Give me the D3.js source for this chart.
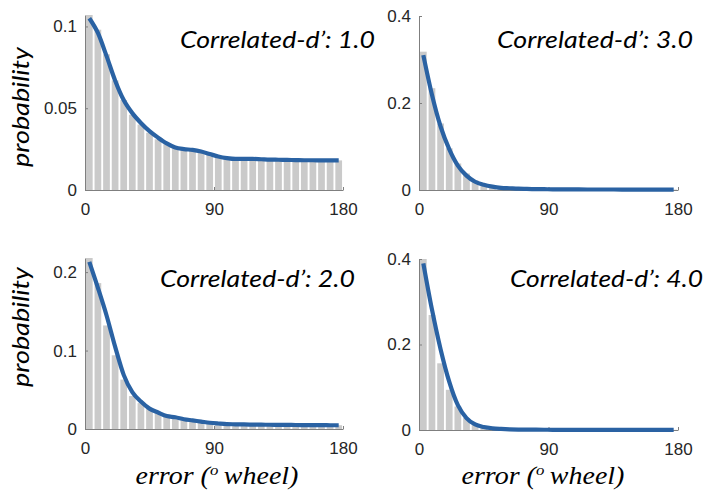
<!DOCTYPE html>
<html>
<head>
<meta charset="utf-8">
<script src="https://cdn.jsdelivr.net/npm/d3@7"></script>
<style>
  html, body { margin: 0; padding: 0; background: #fff; }
  svg { display: block; }
  .tick text { font-family: "Liberation Sans", Arial, sans-serif; font-size: 17px; fill: #262626; }
  .domain, .tick line { stroke: #7f7f7f; stroke-width: 1; }
</style>
</head>
<body>
<svg id="fig" width="710" height="499"></svg>
<script>
// Error bins (centres, degrees on the colour wheel), 6-degree wide
const binCenters = [3, 9, 15, 21, 27, 33, 39, 45, 51, 57, 63, 69, 75, 81, 87,
                    93, 99, 105, 111, 117, 123, 129, 135, 141, 147, 153, 159, 165, 171, 177];
const binWidth = 6;
const xTicks = [0, 90, 180];

// Panel labels (correlated d')
const dprimes = ["1.0", "3.0", "2.0", "4.0"];

// Y-axis limits and ticks per panel
const yMax = [0.107, 0.4, 0.218, 0.4];
const yTicksA = [0, 0.05, 0.1];
const yTicksB = [0, 0.2, 0.4];
const yTicksC = [0, 0.1, 0.2];
const yTicksD = [0, 0.2, 0.4];

// Observed error histograms (probability per bin)
const barsD1 = [0.107, 0.098, 0.083, 0.067, 0.055, 0.046, 0.040, 0.035, 0.031, 0.028,
                0.026, 0.025, 0.024, 0.023, 0.022, 0.0205, 0.0195, 0.019, 0.019, 0.0189,
                0.0188, 0.0186, 0.0185, 0.0184, 0.0183, 0.0182, 0.0182, 0.0181, 0.0181, 0.0181];
const barsD3 = [0.318, 0.234, 0.153, 0.096, 0.061, 0.038, 0.022, 0.013, 0.008, 0.005,
                0.004, 0.003, 0.0025, 0.002, 0.0018, 0.0016, 0.0015, 0.0014, 0.0013, 0.0012,
                0.0012, 0.0011, 0.0011, 0.001, 0.001, 0.001, 0.001, 0.001, 0.001, 0.001];
const barsD2 = [0.218, 0.186, 0.132, 0.094, 0.063, 0.042, 0.033, 0.026, 0.021, 0.0165,
                0.015, 0.0125, 0.011, 0.0095, 0.008, 0.007, 0.0062, 0.006, 0.0058, 0.0056,
                0.0055, 0.0054, 0.0053, 0.0052, 0.0051, 0.005, 0.005, 0.0049, 0.0048, 0.0048];
const barsD4 = [0.400, 0.269, 0.156, 0.094, 0.055, 0.028, 0.014, 0.007, 0.004, 0.0025,
                0.0015, 0.001, 0.0008, 0.0007, 0.0006, 0.0005, 0.0005, 0.0004, 0.0004, 0.0004,
                0.0003, 0.0003, 0.0003, 0.0003, 0.0003, 0.0003, 0.0003, 0.0003, 0.0003, 0.0003];

// Model predictions
const fitD1 = [0.105, 0.096, 0.082, 0.067, 0.055, 0.047, 0.041, 0.036, 0.032, 0.0285,
               0.026, 0.025, 0.0245, 0.0235, 0.022, 0.0205, 0.0195, 0.019, 0.019, 0.019,
               0.0188, 0.0186, 0.0185, 0.0184, 0.0183, 0.0182, 0.0182, 0.0181, 0.0181, 0.0181];
const fitD3 = [0.310, 0.219, 0.146, 0.094, 0.056, 0.033, 0.019, 0.012, 0.0077, 0.005,
               0.004, 0.003, 0.0025, 0.002, 0.0018, 0.0016, 0.0015, 0.0014, 0.0013, 0.0012,
               0.0012, 0.0011, 0.0011, 0.001, 0.001, 0.001, 0.001, 0.001, 0.001, 0.001];
const fitD2 = [0.213, 0.180, 0.145, 0.105, 0.069, 0.047, 0.035, 0.026, 0.021, 0.0165,
               0.015, 0.0125, 0.011, 0.0095, 0.008, 0.007, 0.0062, 0.006, 0.0058, 0.0056,
               0.0055, 0.0054, 0.0053, 0.0052, 0.0051, 0.005, 0.005, 0.0049, 0.0048, 0.0048];
const fitD4 = [0.390, 0.282, 0.189, 0.113, 0.058, 0.028, 0.013, 0.007, 0.004, 0.0025,
               0.0015, 0.001, 0.0008, 0.0007, 0.0006, 0.0005, 0.0005, 0.0004, 0.0004, 0.0004,
               0.0003, 0.0003, 0.0003, 0.0003, 0.0003, 0.0003, 0.0003, 0.0003, 0.0003, 0.0003];

const barColor = "#cacaca";
const lineColor = "#2a62a3";

// Axes boxes on the page, top-left / top-right / bottom-left / bottom-right
const panels = [
  { left: 85,  right: 343, top: 15,  bottom: 190, ymax: yMax[0], ticks: yTicksA, bars: barsD1, fit: fitD1, label: dprimes[0], tx: 180, ty: 48,  tlen: 195 },
  { left: 419, right: 678, top: 16,  bottom: 190, ymax: yMax[1], ticks: yTicksB, bars: barsD3, fit: fitD3, label: dprimes[1], tx: 497, ty: 48,  tlen: 196 },
  { left: 85,  right: 343, top: 258, bottom: 429, ymax: yMax[2], ticks: yTicksC, bars: barsD2, fit: fitD2, label: dprimes[2], tx: 160, ty: 287, tlen: 195 },
  { left: 419, right: 678, top: 259, bottom: 430, ymax: yMax[3], ticks: yTicksD, bars: barsD4, fit: fitD4, label: dprimes[3], tx: 510, ty: 287, tlen: 193 }
];

const svg = d3.select("#fig");
const tickFmt = d => (d === 0 ? "0" : String(d));

panels.forEach(p => {
  const x = d3.scaleLinear().domain([0, 180]).range([p.left, p.right]);
  const y = d3.scaleLinear().domain([0, p.ymax]).range([p.bottom, p.top]);
  const g = svg.append("g");

  // histogram bars
  const bw = (x(binWidth) - x(0)) * 0.78;
  g.append("g").selectAll("rect")
    .data(p.bars)
    .join("rect")
      .attr("x", (d, i) => x(binCenters[i]) - bw / 2)
      .attr("width", bw)
      .attr("y", d => y(d))
      .attr("height", d => y(0) - y(d))
      .attr("fill", barColor);

  // axes with inward ticks, no box
  g.append("g")
    .attr("transform", `translate(0,${p.bottom})`)
    .call(d3.axisBottom(x).tickValues(xTicks).tickFormat(d3.format("d"))
      .tickSizeInner(-3).tickSizeOuter(0).tickPadding(13));
  g.append("g")
    .attr("transform", `translate(${p.left},0)`)
    .call(d3.axisLeft(y).tickValues(p.ticks).tickFormat(tickFmt)
      .tickSizeInner(-3).tickSizeOuter(0).tickPadding(8));

  // model curve
  const line = d3.line()
    .x((d, i) => x(binCenters[i]))
    .y(d => y(d))
    .curve(d3.curveMonotoneX);
  g.append("path")
    .datum(p.fit)
    .attr("d", line)
    .attr("fill", "none")
    .attr("stroke", lineColor)
    .attr("stroke-width", 4.2)
    .attr("stroke-linejoin", "round");

  // panel label
  g.append("text")
    .attr("x", p.tx)
    .attr("y", p.ty)
    .attr("textLength", p.tlen)
    .attr("lengthAdjust", "spacingAndGlyphs")
    .style("font-family", "Lato, 'Open Sans', sans-serif")
    .style("font-style", "italic")
    .style("font-size", "23px")
    .style("fill", "#000")
    .text(`Correlated-d\u2019: ${p.label}`);
});

// y-axis titles
[107, 327].forEach(cy => {
  svg.append("text")
    .attr("transform", `translate(29,${cy}) rotate(-90)`)
    .attr("text-anchor", "middle")
    .attr("textLength", 120)
    .attr("lengthAdjust", "spacingAndGlyphs")
    .style("font-family", "Lato, 'Open Sans', sans-serif")
    .style("font-style", "italic")
    .style("font-size", "23px")
    .style("fill", "#000")
    .text("probability");
});

// x-axis titles, serif italic fitted to a fixed width
const xTitleWidth = 163;
[217, 543].forEach(cx => {
  const t = svg.append("text")
    .attr("x", 0)
    .attr("y", 0)
    .attr("text-anchor", "middle")
    .style("font-family", "'Liberation Serif', serif")
    .style("font-style", "italic")
    .style("font-size", "25px")
    .style("fill", "#000");
  t.append("tspan").text("error (");
  t.append("tspan").attr("dy", -9).style("font-size", "15px").text("o");
  t.append("tspan").attr("dy", 9).text("\u2009wheel)");
  const w = t.node().getBBox().width;
  const s = w > 0 ? xTitleWidth / w : 1;
  t.attr("transform", `translate(${cx},484) scale(${s},1)`);
});
</script>
</body>
</html>
